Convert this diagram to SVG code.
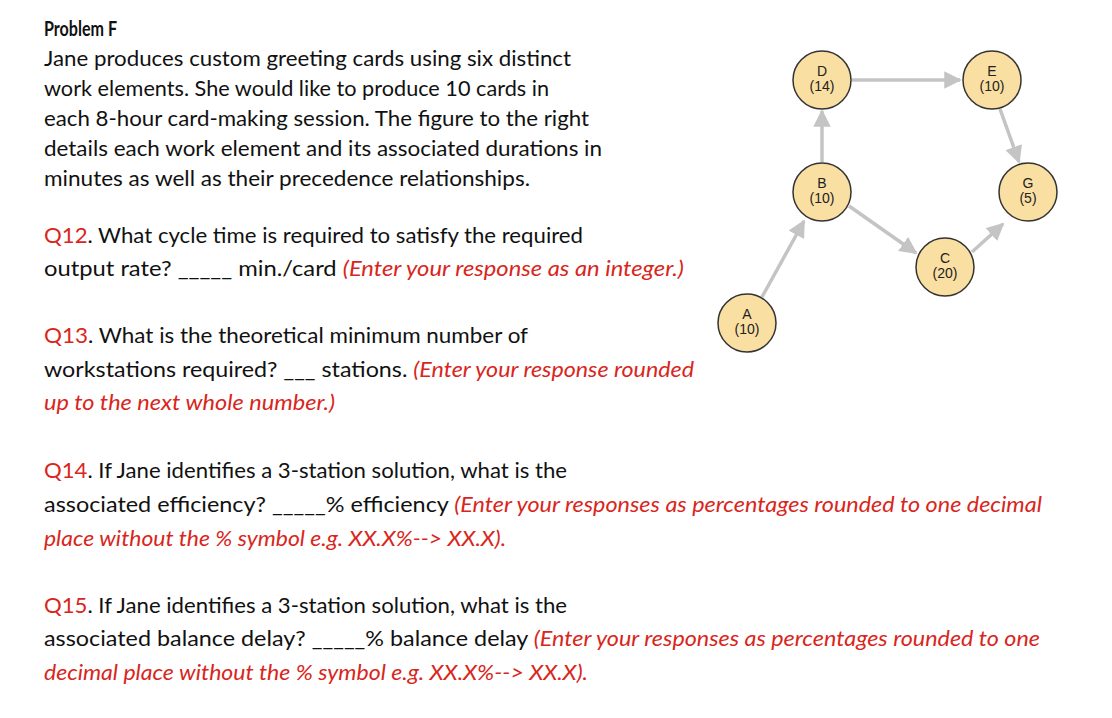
<svg xmlns="http://www.w3.org/2000/svg" width="1112" height="718" viewBox="0 0 1112 718">
<style>
.t{font-family:Lato,"Open Sans",sans-serif;font-size:21.5px;fill:#111}
.r{fill:#d9261c;font-style:italic}
.q{fill:#d9261c}
.n circle{fill:#f9dfa2;stroke:#333;stroke-width:1.5}
.n text{font-family:"Liberation Sans",Arial,sans-serif;font-size:14px;fill:#222;text-anchor:middle}
.e line{stroke:#c4c4c4;stroke-width:3.5;marker-end:url(#ah)}
</style>
<defs><marker id="ah" viewBox="0 0 10 10" refX="9" refY="5" markerWidth="5" markerHeight="5" orient="auto" markerUnits="strokeWidth"><path d="M0,0L10,5L0,10z" fill="#c4c4c4"/></marker></defs>
<rect width="1112" height="718" fill="#fff"/>
<g class="t" lengthAdjust="spacingAndGlyphs">
<text x="44" y="36" font-weight="bold" textLength="73" lengthAdjust="spacingAndGlyphs">Problem F</text>
<text x="44" y="66" textLength="527" lengthAdjust="spacingAndGlyphs">Jane produces custom greeting cards using six distinct</text>
<text x="44" y="96" textLength="505" lengthAdjust="spacingAndGlyphs">work elements. She would like to produce 10 cards in</text>
<text x="44" y="126" textLength="545" lengthAdjust="spacingAndGlyphs">each 8-hour card-making session. The figure to the right</text>
<text x="44" y="156" textLength="558" lengthAdjust="spacingAndGlyphs">details each work element and its associated durations in</text>
<text x="44" y="186" textLength="486" lengthAdjust="spacingAndGlyphs">minutes as well as their precedence relationships.</text>
<text x="44" y="243" textLength="539" lengthAdjust="spacingAndGlyphs"><tspan class="q">Q12</tspan>. What cycle time is required to satisfy the required</text>
<text x="44" y="276" textLength="640" lengthAdjust="spacingAndGlyphs">output rate? _____ min./card <tspan class="r">(Enter your response as an integer.)</tspan></text>
<text x="44" y="343" textLength="484" lengthAdjust="spacingAndGlyphs"><tspan class="q">Q13</tspan>. What is the theoretical minimum number of</text>
<text x="44" y="377" textLength="650" lengthAdjust="spacingAndGlyphs">workstations required? ___ stations. <tspan class="r">(Enter your response rounded</tspan></text>
<text x="44" y="410" class="r" textLength="291" lengthAdjust="spacingAndGlyphs">up to the next whole number.)</text>
<text x="44" y="478" textLength="523" lengthAdjust="spacingAndGlyphs"><tspan class="q">Q14</tspan>. If Jane identifies a 3-station solution, what is the</text>
<text x="44" y="512" textLength="998" lengthAdjust="spacingAndGlyphs">associated efficiency? _____% efficiency <tspan class="r">(Enter your responses as percentages rounded to one decimal</tspan></text>
<text x="44" y="546" class="r" textLength="462" lengthAdjust="spacingAndGlyphs">place without the % symbol e.g. XX.X%--&gt; XX.X).</text>
<text x="44" y="613" textLength="523" lengthAdjust="spacingAndGlyphs"><tspan class="q">Q15</tspan>. If Jane identifies a 3-station solution, what is the</text>
<text x="44" y="646" textLength="996" lengthAdjust="spacingAndGlyphs">associated balance delay? _____% balance delay <tspan class="r">(Enter your responses as percentages rounded to one</tspan></text>
<text x="44" y="680" class="r" textLength="544" lengthAdjust="spacingAndGlyphs">decimal place without the % symbol e.g. XX.X%--&gt; XX.X).</text>
</g>
<g class="e">
<line x1="762" y1="297" x2="804" y2="221"/>
<line x1="822" y1="162" x2="822" y2="111"/>
<line x1="852" y1="80" x2="960" y2="80"/>
<line x1="1000" y1="109" x2="1019" y2="162"/>
<line x1="849" y1="206" x2="916" y2="253"/>
<line x1="972" y1="252" x2="1003" y2="224"/>
</g>
<g id="A" class="n"><circle cx="747" cy="323" r="29"/><text x="747" y="319">A</text><text x="747" y="334">(10)</text></g>
<g id="B" class="n"><circle cx="822" cy="192" r="29"/><text x="822" y="188">B</text><text x="822" y="203">(10)</text></g>
<g id="C" class="n"><circle cx="945" cy="267" r="29"/><text x="945" y="263">C</text><text x="945" y="278">(20)</text></g>
<g id="D" class="n"><circle cx="822" cy="80" r="29"/><text x="822" y="76">D</text><text x="822" y="91">(14)</text></g>
<g id="E" class="n"><circle cx="992" cy="80" r="29"/><text x="992" y="76">E</text><text x="992" y="91">(10)</text></g>
<g id="G" class="n"><circle cx="1028" cy="192" r="29"/><text x="1028" y="188">G</text><text x="1028" y="203">(5)</text></g>
</svg>
